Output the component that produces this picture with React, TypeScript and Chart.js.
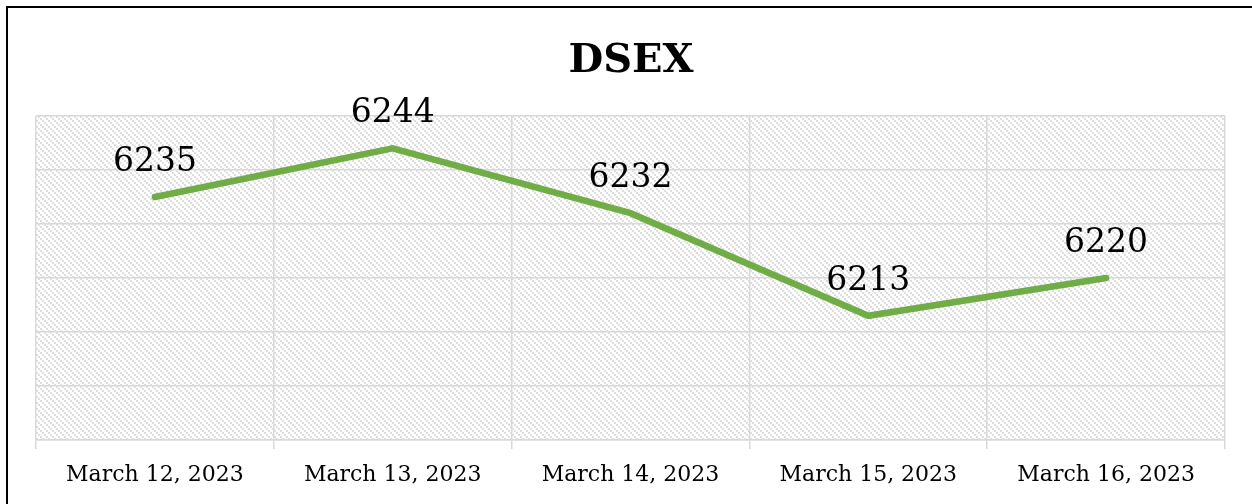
import React, { useEffect, useRef } from "react";
import { Chart, registerables } from "chart.js";

Chart.register(...registerables);

const categories = ["March 12, 2023", "March 13, 2023", "March 14, 2023", "March 15, 2023", "March 16, 2023"];
const dsexValues = [6235, 6244, 6232, 6213, 6220];
const chartTitle = "DSEX";
const yMin = 6190;
const yMax = 6250;
const yStep = 10;

function makeHatch(ctx: CanvasRenderingContext2D) {
  const c = document.createElement("canvas");
  c.width = 6;
  c.height = 6;
  const g = c.getContext("2d")!;
  g.fillStyle = "#ffffff";
  g.fillRect(0, 0, 6, 6);
  g.fillStyle = "#dedede";
  for (let k = 0; k < 3; k++) {
    g.fillRect(2 * k, 2 * k, 2, 2);
  }
  return ctx.createPattern(c, "repeat");
}

export default function App() {
  const ref = useRef<HTMLCanvasElement>(null);

  useEffect(() => {
    const canvas = ref.current!;
    const bgPlugin = {
      id: "bg",
      beforeDraw(chart: any) {
        const { ctx, chartArea } = chart;
        ctx.save();
        ctx.fillStyle = "#ffffff";
        ctx.fillRect(0, 0, chart.width, chart.height);
        ctx.fillStyle = makeHatch(ctx);
        ctx.fillRect(chartArea.left, chartArea.top, chartArea.right - chartArea.left, chartArea.bottom - chartArea.top);
        ctx.fillStyle = "#000000";
        ctx.fillRect(6, 6, chart.width - 6, 2);
        ctx.fillRect(6, 6, 2, chart.height - 6);
        ctx.restore();
      },
    };
    const labelPlugin = {
      id: "labels",
      afterDatasetsDraw(chart: any) {
        const { ctx } = chart;
        const meta = chart.getDatasetMeta(0);
        ctx.save();
        ctx.font = "33px 'DejaVu Serif'";
        ctx.fillStyle = "#000000";
        ctx.textAlign = "center";
        ctx.textBaseline = "alphabetic";
        meta.data.forEach((pt: any, i: number) => {
          ctx.fillText(String(dsexValues[i]), pt.x, pt.y - 26);
        });
        ctx.font = "bold 40px 'DejaVu Serif'";
        ctx.fillText(chartTitle, 631, 72);
        ctx.restore();
      },
    };
    const chart = new Chart(canvas, {
      type: "line",
      data: {
        labels: categories,
        datasets: [
          {
            data: dsexValues,
            borderColor: "#70AD47",
            borderWidth: 6.5,
            pointRadius: 0,
            borderCapStyle: "round",
            borderJoinStyle: "miter",
            tension: 0,
          },
        ],
      },
      options: {
        animation: false,
        responsive: false,
        devicePixelRatio: 1,
        layout: { padding: { left: 0, right: 27, top: 116, bottom: 0 } },
        plugins: {
          legend: { display: false },
          tooltip: { enabled: false },
          title: { display: false },
        },
        scales: {
          x: {
            offset: true,
            grid: { offset: true, color: "#d9d9d9", lineWidth: 1.5, tickLength: 9, drawTicks: true },
            border: { color: "#d9d9d9", width: 1.5 },
            ticks: {
              color: "#000000",
              font: { family: "'DejaVu Serif'", size: 22 },
              padding: 13,
              maxRotation: 0,
              autoSkip: false,
            },
            afterFit(scale: any) {
              scale.height = 64;
            },
          },
          y: {
            min: yMin,
            max: yMax,
            ticks: { display: false, stepSize: yStep },
            grid: { color: "#d9d9d9", lineWidth: 1.5, drawTicks: false },
            border: { display: false },
            afterFit(scale: any) {
              scale.width = 36;
            },
          },
        },
      },
      plugins: [bgPlugin, labelPlugin],
    });
    return () => chart.destroy();
  }, []);

  return (
    <div style={{ position: "absolute", left: 0, top: 0, width: 1252, height: 504 }}>
      <canvas ref={ref} width={1252} height={504} style={{ width: 1252, height: 504, display: "block" }} />
    </div>
  );
}
